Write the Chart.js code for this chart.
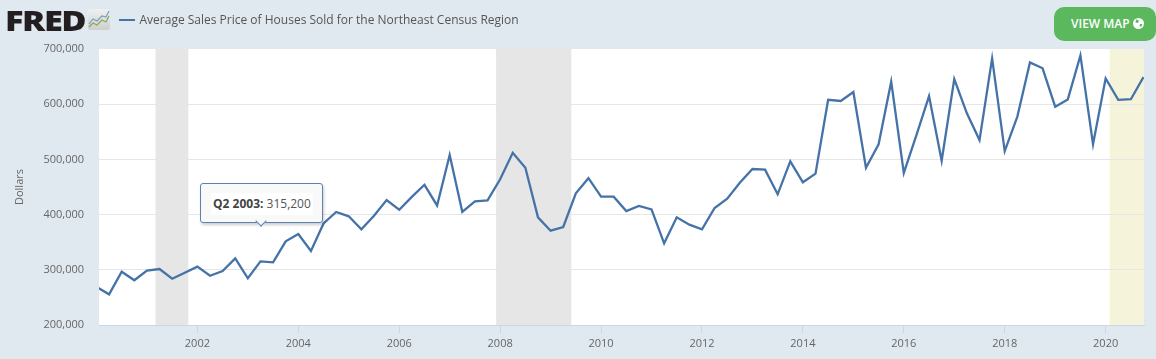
<!DOCTYPE html>
<html lang="en">
<head>
  <meta charset="UTF-8">
  <title>Average Sales Price of Houses Sold for the Northeast Census Region</title>
  <style>
    * {
      margin: 0;
      padding: 0;
      box-sizing: border-box;
    }

    html, body {
      width: 1156px;
      height: 359px;
      overflow: hidden;
      background-color: #e1e9f0;
      font-family: "Open Sans", Arial, sans-serif;
    }

    #chartWrap {
      position: absolute;
      left: 0;
      top: 0;
      width: 1156px;
      height: 359px;
    }

    #logo {
      position: absolute;
      left: 5px;
      top: 1px;
      font-size: 28px;
      line-height: 38px;
      font-weight: 800;
      letter-spacing: -1.2px;
      color: #231f20;
      transform: scaleX(1.23);
      transform-origin: left center;
    }

    #logoIcon {
      position: absolute;
      left: 88px;
      top: 9px;
    }

    #legendLine {
      position: absolute;
      left: 119px;
      top: 19px;
      width: 16px;
      height: 2px;
      background-color: #4572a7;
    }

    #legendText {
      position: absolute;
      left: 139.5px;
      top: 10px;
      font-size: 12px;
      line-height: 20px;
      color: #555;
      white-space: nowrap;
    }

    #viewMap {
      position: absolute;
      left: 1054px;
      top: 7px;
      width: 102px;
      height: 34px;
      border-radius: 10px;
      background-color: #5cb85c;
      color: #fff;
      font-size: 12px;
      font-weight: 600;
      line-height: 34px;
      padding-left: 17px;
      white-space: nowrap;
    }

    #viewMap svg {
      vertical-align: -1px;
    }

    #tip {
      position: absolute;
      height: 40px;
      width: 123px;
      background-color: #f9f9f9;
      border: 1px solid #5a83b2;
      border-radius: 3px;
      box-shadow: 1px 2px 3px rgba(0, 0, 0, 0.2);
      font-size: 12px;
      line-height: 38px;
      text-align: center;
      color: #555;
      white-space: nowrap;
    }

    #tip span {
      display: inline-block;
      background-color: #fff;
      line-height: 22px;
      padding: 0 2px;
      vertical-align: middle;
    }

    #tip b {
      color: #444;
    }

    #tipCaret {
      position: absolute;
      left: 56px;
      top: 33px;
      width: 8px;
      height: 8px;
      background-color: #f9f9f9;
      border-right: 1px solid #5a83b2;
      border-bottom: 1px solid #5a83b2;
      transform: rotate(45deg);
    }
  </style>
  <script src="https://cdn.jsdelivr.net/npm/chart.js"></script>
</head>
<body>
  <div id="chartWrap"><canvas id="chart" width="1156" height="359"></canvas></div>

  <div id="logo">FRED</div>
  <svg id="logoIcon" width="22" height="21" viewBox="0 0 22 21">
    <defs>
      <linearGradient id="iconBg" x1="0" y1="0" x2="0" y2="1">
        <stop offset="0" stop-color="#eef1f3"/>
        <stop offset="1" stop-color="#cfcfcc"/>
      </linearGradient>
    </defs>
    <rect x="0" y="0" width="22" height="21" rx="2" fill="url(#iconBg)"/>
    <polyline points="1,15 5,10 9,12 14,7 18,8 21,2" fill="none" stroke="#7d9dbd" stroke-width="1.2"/>
    <polyline points="1,18 5,14 9,16 14,11 18,13 21,7" fill="none" stroke="#86a95c" stroke-width="1.2"/>
  </svg>
  <div id="legendLine"></div>
  <div id="legendText">Average Sales Price of Houses Sold for the Northeast Census Region</div>

  <div id="viewMap">VIEW MAP
    <svg width="11" height="11" viewBox="0 0 11 11">
      <circle cx="5.5" cy="5.5" r="5.5" fill="#fff"/>
      <path d="M3 1.5 L6 2.5 L5 5 L2.5 4.5 Z M7 6 L9.5 6 L8 9 L6.5 8 Z" fill="#5cb85c"/>
    </svg>
  </div>

  <script>
    const seriesName = "Average Sales Price of Houses Sold for the Northeast Census Region";
    const axisTitle = "Dollars";

    const quarters = [
      "Q1 2000", "Q2 2000", "Q3 2000", "Q4 2000",
      "Q1 2001", "Q2 2001", "Q3 2001", "Q4 2001",
      "Q1 2002", "Q2 2002", "Q3 2002", "Q4 2002",
      "Q1 2003", "Q2 2003", "Q3 2003", "Q4 2003",
      "Q1 2004", "Q2 2004", "Q3 2004", "Q4 2004",
      "Q1 2005", "Q2 2005", "Q3 2005", "Q4 2005",
      "Q1 2006", "Q2 2006", "Q3 2006", "Q4 2006",
      "Q1 2007", "Q2 2007", "Q3 2007", "Q4 2007",
      "Q1 2008", "Q2 2008", "Q3 2008", "Q4 2008",
      "Q1 2009", "Q2 2009", "Q3 2009", "Q4 2009",
      "Q1 2010", "Q2 2010", "Q3 2010", "Q4 2010",
      "Q1 2011", "Q2 2011", "Q3 2011", "Q4 2011",
      "Q1 2012", "Q2 2012", "Q3 2012", "Q4 2012",
      "Q1 2013", "Q2 2013", "Q3 2013", "Q4 2013",
      "Q1 2014", "Q2 2014", "Q3 2014", "Q4 2014",
      "Q1 2015", "Q2 2015", "Q3 2015", "Q4 2015",
      "Q1 2016", "Q2 2016", "Q3 2016", "Q4 2016",
      "Q1 2017", "Q2 2017", "Q3 2017", "Q4 2017",
      "Q1 2018", "Q2 2018", "Q3 2018", "Q4 2018",
      "Q1 2019", "Q2 2019", "Q3 2019", "Q4 2019",
      "Q1 2020", "Q2 2020", "Q3 2020", "Q4 2020"
    ];

    const prices = [
      269000, 255600, 296600, 281000,
      298400, 301400, 283900, 294700,
      305700, 289300, 297800, 320800,
      284600, 315200, 313500, 351600,
      364900, 334000, 384000, 404700,
      396900, 373300, 398000, 426400,
      408900, 432000, 454000, 416600,
      508000, 405000, 424000, 425900,
      463900, 512000, 485000, 395000,
      370800, 377500, 438500, 466000,
      432500, 432500, 406500, 415600,
      409500, 348000, 395000, 381700,
      373300, 412000, 428800, 457800,
      482600, 481400, 436800, 496500,
      458500, 474100, 608000, 605800,
      622000, 485000, 527400, 640800,
      475400, 544000, 614800, 497600,
      645600, 583500, 535000, 683000,
      515000, 577500, 675700, 665000,
      595500, 608700, 688400, 527400,
      646800, 608000, 609000, 649000
    ];

    const yearTicks = [2002, 2004, 2006, 2008, 2010, 2012, 2014, 2016, 2018, 2020];
    const priceTicks = [200000, 300000, 400000, 500000, 600000, 700000];

    // shaded periods, in decimal years
    const recessionStarts = [2001.17, 2007.92];
    const recessionEnds = [2001.82, 2009.41];
    const forecastStart = 2020.08;
    const tooltipQuarter = "Q2 2003";

    function quarterToYear(label) {
      const q = parseInt(label.charAt(1));
      const y = parseInt(label.slice(3));
      return y + (q - 1) / 4;
    }

    const points = quarters.map((q, i) => ({ x: quarterToYear(q), y: prices[i] }));

    const plotBackground = {
      id: "plotBackground",
      beforeDraw(chart) {
        const { ctx, chartArea: a, scales } = chart;
        ctx.save();
        ctx.fillStyle = "#ffffff";
        ctx.fillRect(a.left, a.top, a.right - a.left, a.bottom - a.top);
        ctx.fillStyle = "#e6e6e6";
        recessionStarts.forEach((start, i) => {
          const x1 = scales.x.getPixelForValue(start);
          const x2 = scales.x.getPixelForValue(recessionEnds[i]);
          ctx.fillRect(x1, a.top, x2 - x1, a.bottom - a.top);
        });
        ctx.fillStyle = "#f5f4da";
        const fx = scales.x.getPixelForValue(forecastStart);
        ctx.fillRect(fx, a.top, a.right - fx, a.bottom - a.top);
        ctx.restore();
      }
    };

    function drawTip(context) {
      const tooltip = context.tooltip;
      let el = document.getElementById("tip");
      if (!el) {
        el = document.createElement("div");
        el.id = "tip";
        document.body.appendChild(el);
      }
      if (!tooltip.dataPoints || !tooltip.dataPoints.length) return;
      const p = tooltip.dataPoints[0];
      const text = quarters[p.dataIndex];
      el.innerHTML = "<span><b>" + text + ":</b> " + p.parsed.y.toLocaleString("en-US") + '</span><div id="tipCaret"></div>';
      el.style.left = (tooltip.caretX - 60) + "px";
      el.style.top = (tooltip.caretY - 78) + "px";
    }

    const chart = new Chart(document.getElementById("chart").getContext("2d"), {
      type: "line",
      plugins: [plotBackground],
      data: {
        datasets: [{
          label: seriesName,
          data: points,
          borderColor: "#4572a7",
          borderWidth: 2.3,
          pointRadius: 0,
          pointHoverRadius: 0,
          tension: 0,
          clip: 0
        }]
      },
      options: {
        responsive: false,
        animation: false,
        events: [],
        layout: { padding: { left: 0, top: 49, right: 12, bottom: 0 } },
        plugins: {
          legend: { display: false },
          tooltip: { enabled: false, external: drawTip }
        },
        scales: {
          x: {
            type: "linear",
            min: 2000.05,
            max: 2020.76,
            afterBuildTicks(axis) {
              axis.ticks = yearTicks.map(v => ({ value: v }));
            },
            afterFit(axis) {
              axis.height = 34;
            },
            border: { color: "#ccd6eb" },
            grid: { drawOnChartArea: false, tickLength: 8, tickColor: "#ccd6eb" },
            ticks: {
              autoSkip: false,
              maxRotation: 0,
              color: "#666",
              padding: 4,
              font: { family: "Open Sans", size: 11 },
              callback: v => String(v)
            }
          },
          y: {
            min: 200000,
            max: 700000,
            afterBuildTicks(axis) {
              axis.ticks = priceTicks.map(v => ({ value: v }));
            },
            afterFit(axis) {
              axis.width = 99;
            },
            border: { display: false },
            grid: {
              color: c => c.tick && c.tick.value === 700000 ? "rgba(0,0,0,0)" : "#e6e6e6",
              drawTicks: false
            },
            title: {
              display: true,
              text: axisTitle,
              color: "#666",
              font: { family: "Open Sans", size: 11 },
              padding: { top: 13, bottom: 0 }
            },
            ticks: {
              color: "#666",
              padding: 15,
              font: { family: "Open Sans", size: 11 },
              callback: v => v.toLocaleString("en-US")
            }
          }
        }
      }
    });

    // FRED shows the hover label for one quarter
    const tipIndex = quarters.indexOf(tooltipQuarter);
    chart.tooltip.setActiveElements([{ datasetIndex: 0, index: tipIndex }], { x: 0, y: 0 });
    chart.render();
  </script>
</body>
</html>
